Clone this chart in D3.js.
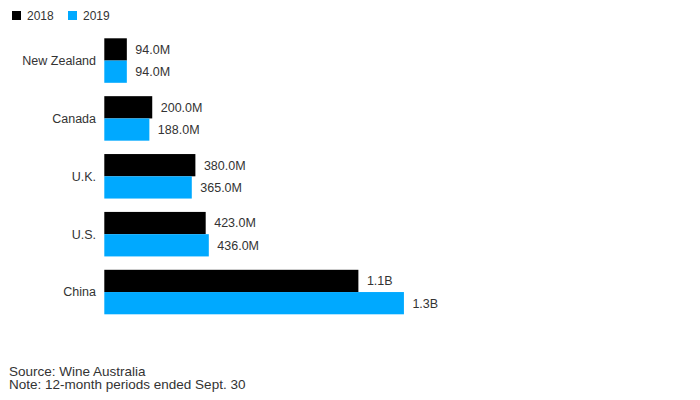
<!DOCTYPE html>
<html>
<head>
<meta charset="utf-8">
<script src="https://cdn.jsdelivr.net/npm/d3@7"></script>
<style>
  html, body { margin: 0; padding: 0; background: #fff; }
  svg { display: block; font-family: "Liberation Sans", Arial, Helvetica, sans-serif; }
</style>
</head>
<body>
<svg id="chart" width="700" height="400"></svg>
<script>
const categories = ["New Zealand", "Canada", "U.K.", "U.S.", "China"];
const seriesNames = ["2018", "2019"];
const values2018 = [94, 200, 380, 423, 1060];   // millions AUD
const values2019 = [94, 188, 365, 436, 1250];
const colors = ["#000000", "#00a9ff"];

const svg = d3.select("#chart");
const x0 = 104.3;
const x = d3.scaleLinear().domain([0, 1000]).range([x0, x0 + 239.7]);
const y = d3.scaleBand().domain(categories).range([38.3, 314.3]).paddingInner(0.231).paddingOuter(0);
const ySub = d3.scaleBand().domain(seriesNames).range([0, y.bandwidth()]);

const fmt = v => v >= 1000 ? d3.format(".1f")(v / 1000) + "B" : d3.format(".1f")(v) + "M";

const data = categories.map((c, i) => ({ cat: c, vals: [values2018[i], values2019[i]] }));

const g = svg.append("g");
const groups = g.selectAll("g.grp").data(data).join("g")
  .attr("class", "grp")
  .attr("transform", d => `translate(0,${y(d.cat)})`);

groups.selectAll("rect").data(d => d.vals.map((v, k) => ({ v, k })))
  .join("rect")
  .attr("x", x(0))
  .attr("y", d => ySub(seriesNames[d.k]))
  .attr("width", d => x(d.v) - x(0))
  .attr("height", ySub.bandwidth())
  .attr("fill", d => colors[d.k]);

groups.selectAll("text.val").data(d => d.vals.map((v, k) => ({ v, k })))
  .join("text")
  .attr("class", "val")
  .attr("x", d => x(d.v) + 8.5)
  .attr("y", d => ySub(seriesNames[d.k]) + ySub.bandwidth() / 2)
  .attr("dy", "0.35em")
  .attr("font-size", "12.5px")
  .attr("fill", "#333")
  .text(d => fmt(d.v));

// category axis labels
g.selectAll("text.cat").data(categories).join("text")
  .attr("class", "cat")
  .attr("x", 96)
  .attr("y", d => y(d) + y.bandwidth() / 2)
  .attr("dy", "0.35em")
  .attr("text-anchor", "end")
  .attr("font-size", "12.5px")
  .attr("fill", "#333")
  .text(d => d);

// legend
const legendX = [12, 68];
const leg = svg.append("g").selectAll("g").data(seriesNames).join("g")
  .attr("transform", (d, i) => `translate(${legendX[i]},11)`);
leg.append("rect").attr("width", 9).attr("height", 9).attr("fill", (d, i) => colors[i]);
leg.append("text").attr("x", 15).attr("y", 9).attr("font-size", "12px").attr("fill", "#333").text(d => d);

// footer
const notes = ["Source: Wine Australia", "Note: 12-month periods ended Sept. 30"];
svg.append("g").selectAll("text").data(notes).join("text")
  .attr("x", 9)
  .attr("y", (d, i) => 375.5 + i * 13.5)
  .attr("font-size", "13.5px")
  .attr("fill", "#333")
  .text(d => d);
</script>
</body>
</html>
